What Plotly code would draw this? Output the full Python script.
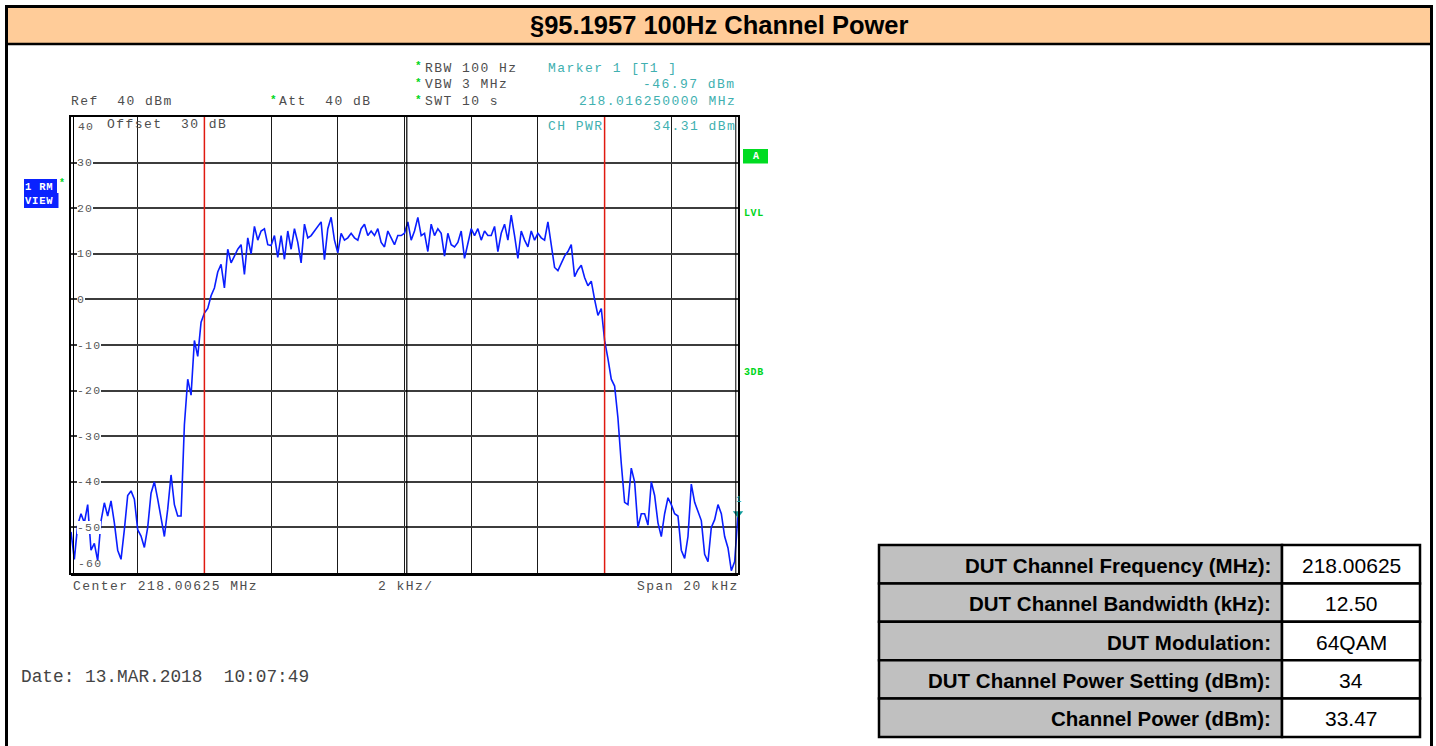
import numpy as np
import plotly.graph_objects as go

# ---------------- data ----------------
span_khz = 20.0
n_points = 201
centre_mhz = 218.00625

# trace level (dBm) at each sweep point, offset -10 kHz .. +10 kHz
level_dbm = [
    -51, -57, -49.5, -47, -49, -45, -55, -53.5, -57.3, -48.6,
    -44.6, -47.5, -44.2, -49, -55, -57, -50.5, -43, -42, -43.8,
    -50.5, -51.9, -54.4, -50, -42.5, -40, -43.8, -47.5, -52, -46,
    -38.5, -45, -47.5, -47.5, -27.5, -17.5, -21, -9, -12.5, -5,
    -3, -2, 0.8, 2.5, 6, 7.7, 2.5, 11, 8, 9.5,
    11, 12, 5.5, 13.5, 10, 16, 13, 15, 15.5, 12,
    11.8, 14, 9.2, 14, 8.8, 15, 11, 15.5, 12.5, 8,
    16.5, 13.5, 14, 15, 16, 17, 8.7, 15.5, 18, 13,
    10.2, 14.5, 13, 13.5, 14.5, 13.5, 13, 15.5, 16.5, 14,
    15, 14, 15.5, 12.5, 11.5, 15, 13.5, 12, 14, 14,
    14.5, 17, 13, 15, 18, 14, 14.5, 10.5, 16.5, 14,
    15.5, 14.5, 9.5, 14.5, 12, 11.5, 12.5, 15, 9, 12,
    15.5, 14, 15.5, 13, 15, 14, 14, 16, 10.5, 14.5,
    16.5, 13, 18.5, 14, 9, 15, 13, 11.5, 15, 13,
    14.5, 13.5, 13, 17, 12, 7, 6.3, 8, 9.5, 10.5,
    12, 5, 6.5, 7.5, 4.8, 3, 4, 0, -3.5, -2,
    -9, -13, -17.5, -19, -26, -36, -44.5, -45, -37, -40,
    -50, -47, -47, -49.5, -40, -43, -49, -52, -47, -43.5,
    -45, -47, -47.5, -55, -56.8, -52, -40.5, -44.5, -46.5, -48.5,
    -55.9, -57.5, -50, -48.3, -45, -47, -52, -54.5, -59.5, -57.5, -46.97,
]

# channel power integration limits (kHz offset from centre)
ch_limits_khz = [-6, 6]

marker_offset_khz = 10
marker_level_dbm = -46.97

y_ticks = [30, 20, 10, 0, -10, -20, -30, -40, -50]

table_labels = [
    "DUT Channel Frequency (MHz):",
    "DUT Channel Bandwidth (kHz):",
    "DUT Modulation:",
    "DUT Channel Power Setting (dBm):",
    "Channel Power (dBm):",
]
table_values = ["218.00625", "12.50", "64QAM", "34", "33.47"]

# ---------------- layout helpers ----------------
W, H = 1436, 746
def fx(x):
    return x / W
def fy(y):
    return 1 - y / H

MONO = "Liberation Mono, Courier New, monospace"
SANS = "Liberation Sans, Arial, Helvetica, sans-serif"
GREY_TXT = "#4d4d4d"
TEAL = "#40b0b0"
GREEN = "#00d61c"

PLOT_L, PLOT_R, PLOT_T, PLOT_B = 71, 738, 117, 573

annotations = []
shapes = []

def txt(x, y, s, size, color, anchor="left", font=MONO, ls=None, bold=False, bg=None):
    s = s.replace(" ", "\u00a0")
    if ls:
        s = f'<span style="letter-spacing:{ls}px">{s}</span>'
    if bold:
        s = f"<b>{s}</b>"
    a = dict(
        xref="paper", yref="paper", x=fx(x), y=fy(y), text=s, showarrow=False,
        xanchor=anchor, yanchor="middle", borderpad=0, borderwidth=0,
        font=dict(family=font, size=size, color=color))
    if bg:
        a["bgcolor"] = bg
    annotations.append(a)

def rect(x0, y0, x1, y1, fill=None, line="black", lw=0, layer="above"):
    shapes.append(dict(
        type="rect", xref="paper", yref="paper",
        x0=fx(x0), x1=fx(x1), y0=fy(y0), y1=fy(y1),
        fillcolor=fill if fill else "rgba(0,0,0,0)",
        line=dict(color=line, width=lw), layer=layer))

def hline_px(x0, x1, y, color="black", lw=1, layer="above"):
    shapes.append(dict(type="line", xref="paper", yref="paper",
                       x0=fx(x0), x1=fx(x1), y0=fy(y), y1=fy(y),
                       line=dict(color=color, width=lw), layer=layer))

def vline_px(x, y0, y1, color="black", lw=1, layer="above"):
    shapes.append(dict(type="line", xref="paper", yref="paper",
                       x0=fx(x), x1=fx(x), y0=fy(y0), y1=fy(y1),
                       line=dict(color=color, width=lw), layer=layer))

# ---------------- page frame and title ----------------
rect(8, 8, 1430, 43.5, fill="#FFCC99", lw=0)
hline_px(7, 1431, 44, lw=2.5)
rect(6.5, 6.5, 1431.5, 780, lw=3)
txt(719, 25.5, "§95.1957 100Hz Channel Power", 25.5, "black", anchor="center",
    font=SANS, bold=True)

# ---------------- analyser trace ----------------
freq_khz = np.linspace(-span_khz / 2, span_khz / 2, n_points)

fig = go.Figure()
fig.add_trace(go.Scatter(
    x=freq_khz, y=level_dbm, mode="lines",
    line=dict(color="#0a1eff", width=1.6), hoverinfo="skip"))
fig.add_trace(go.Scatter(
    x=[marker_offset_khz], y=[marker_level_dbm], mode="markers",
    marker=dict(symbol="triangle-down", size=9, color="#109c9c"),
    cliponaxis=False, hoverinfo="skip"))

# channel limit lines
for lim in ch_limits_khz:
    shapes.append(dict(type="line", xref="x", yref="y domain", x0=lim, x1=lim,
                       y0=0, y1=1, line=dict(color="#e01a10", width=1.5),
                       layer="above"))

# double frame lines of the display
vline_px(73.5, PLOT_T, PLOT_B + 2, lw=1)
vline_px(735.8, PLOT_T, PLOT_B + 2, lw=1)
vline_px(406.8, PLOT_T, PLOT_B + 2, lw=1.2)
hline_px(PLOT_L, PLOT_R, PLOT_B + 2.5, lw=1)

# y level labels printed inside the graticule
ytick_font = 11.5
for v in y_ticks:
    ypx = PLOT_T + (40 - v) / 100 * (PLOT_B - PLOT_T)
    txt(77, ypx, str(v), ytick_font, "#585858", ls=1.2, bg="white")
txt(78, 126, "40", ytick_font, "#585858", ls=1.2)
txt(78, 563, "-60", ytick_font, "#585858", ls=1.2)

# ---------------- instrument annotations ----------------
LS = 1.45
FS = 13
txt(71, 102, "Ref  40 dBm", FS, GREY_TXT, ls=LS)
txt(270, 100, "*", 11, GREEN, bold=True)
txt(279, 102, "Att  40 dB", FS, GREY_TXT, ls=LS)
for yy, s in [(68, "RBW 100 Hz"), (85, "VBW 3 MHz"), (102, "SWT 10 s")]:
    txt(415, yy - 2, "*", 11, GREEN, bold=True)
    txt(425, yy, s, FS, GREY_TXT, ls=LS)
txt(547.5, 68, "Marker 1 [T1 ]", FS, TEAL, ls=LS)
txt(735.5, 85, f"{marker_level_dbm:.2f} dBm", FS, TEAL, anchor="right", ls=LS)
txt(735.5, 102, f"{centre_mhz + marker_offset_khz / 1000:.9f} MHz", FS, TEAL,
    anchor="right", ls=LS)
txt(107, 124, "Offset  30 dB", FS, GREY_TXT, ls=LS)
txt(547.5, 126, "CH PWR", FS, TEAL, ls=LS)
txt(735.5, 126, "34.31 dBm", FS, TEAL, anchor="right", ls=LS)

txt(73, 586.5, f"Center {centre_mhz:.5f} MHz", FS, GREY_TXT, ls=LS)
txt(378, 586.5, f"{span_khz / 10:.0f} kHz/", FS, GREY_TXT, ls=LS)
txt(739, 586.5, f"Span {span_khz:.0f} kHz", FS, GREY_TXT, anchor="right", ls=LS)

txt(21, 677, "Date: 13.MAR.2018  10:07:49", 17.8, "#444444")

# trace info box
rect(24, 179, 57, 193, fill="#0a22ff", lw=0)
rect(24, 193, 58.5, 208, fill="#0a22ff", lw=0)
txt(25, 186.5, "1 RM", 10.5, "white", bold=True, ls=0.8)
txt(25, 200.5, "VIEW", 10.5, "white", bold=True, ls=0.8)
txt(59, 184, "*", 10, GREEN, bold=True)

# right-hand status flags
rect(743, 149, 768, 163.5, fill="#00dc22", lw=0)
txt(755.5, 156.5, "A", 10, "white", anchor="center", bold=True)
txt(744, 213, "LVL", 10, GREEN, bold=True, ls=0.6)
txt(744, 372, "3DB", 10, GREEN, bold=True, ls=0.6)
txt(738.5, 500, "1", 9, "#109c9c", anchor="center")

# ---------------- settings table ----------------
T_L, T_M, T_R, T_T = 879, 1282, 1420, 545
ROW_H = 38.4
for k, (lab, val) in enumerate(zip(table_labels, table_values)):
    y0 = T_T + k * ROW_H
    y1 = y0 + ROW_H
    rect(T_L, y0, T_M, y1, fill="#c0c0c0", lw=2.5)
    rect(T_M, y0, T_R, y1, fill="white", lw=2.5)
    yc = (y0 + y1) / 2 + 1
    txt(T_M - 11, yc, lab, 20.5, "black", anchor="right", font=SANS, bold=True)
    txt((T_M + T_R) / 2, yc, val, 21, "black", anchor="center", font=SANS)

# ---------------- figure layout ----------------
fig.update_layout(
    width=W, height=H,
    margin=dict(l=0, r=0, t=0, b=0),
    paper_bgcolor="white", plot_bgcolor="white",
    showlegend=False,
    xaxis=dict(domain=[fx(PLOT_L), fx(PLOT_R)], range=[-span_khz / 2, span_khz / 2],
               dtick=2, tick0=0, showgrid=True, gridcolor="#1a1a1a", gridwidth=1.3,
               zeroline=False, showticklabels=False, ticks="",
               showline=True, mirror=True, linecolor="black", linewidth=2),
    yaxis=dict(domain=[fy(PLOT_B), fy(PLOT_T)], range=[-60, 40],
               dtick=10, tick0=0, showgrid=True, gridcolor="#3c3c3c", gridwidth=2,
               zeroline=False, showticklabels=False, ticks="",
               showline=True, mirror=True, linecolor="black", linewidth=2),
    annotations=annotations,
    shapes=shapes,
)

fig.write_html("out.html")
